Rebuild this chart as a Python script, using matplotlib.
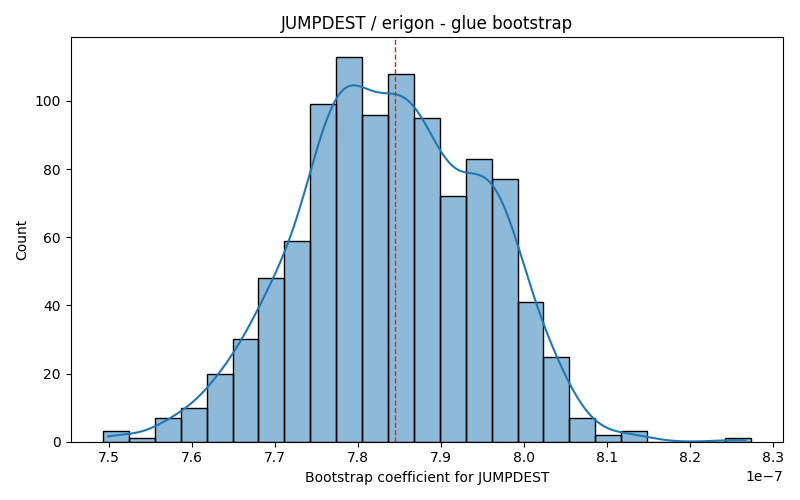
import numpy as np
import matplotlib
matplotlib.use("Agg")
import matplotlib.pyplot as plt

# Data
bin_start = 7.493e-7
bin_end = 8.2735e-7
counts = [3, 1, 7, 10, 20, 30, 48, 59, 99, 113, 96, 108, 95, 72, 83, 77,
          41, 25, 7, 2, 3, 0, 0, 0, 1]
mean_value = 7.845e-7
title = "JUMPDEST / erigon - glue bootstrap"
xlabel = "Bootstrap coefficient for JUMPDEST"
ylabel = "Count"

counts = np.array(counts, dtype=float)
edges = np.linspace(bin_start, bin_end, len(counts) + 1)
width = edges[1] - edges[0]
centers = (edges[:-1] + edges[1:]) / 2

fig, ax = plt.subplots(figsize=(8, 5), dpi=100)
ax.bar(edges[:-1], counts, width=width, align="edge",
       color="#1f77b4", alpha=0.5, edgecolor="none")
ax.bar(edges[:-1], counts, width=width, align="edge",
       facecolor="none", edgecolor="black", linewidth=1)

# Weighted Gaussian KDE over bin centres (Scott's rule, Sheppard-corrected spread)
n = counts.sum()
mu = np.sum(counts * centers) / n
var = np.sum(counts * (centers - mu) ** 2) / n - width ** 2 / 12
sd = np.sqrt(var)
bw = sd * n ** (-1 / 5) * 0.93
xs = np.linspace(edges[0] + width * 0.2, edges[-1] - width * 0.2, 400)
dens = np.sum(counts[:, None] * np.exp(-0.5 * ((xs[None, :] - centers[:, None]) / bw) ** 2),
              axis=0) / (n * bw * np.sqrt(2 * np.pi))
ax.plot(xs, dens * n * width, color="#1f77b4", linewidth=1.5)

ax.axvline(mean_value, color="#d62728", linestyle="--", linewidth=1)

ax.set_title(title)
ax.set_xlabel(xlabel)
ax.set_ylabel(ylabel)
fig.tight_layout()
fig.savefig("out.png")
